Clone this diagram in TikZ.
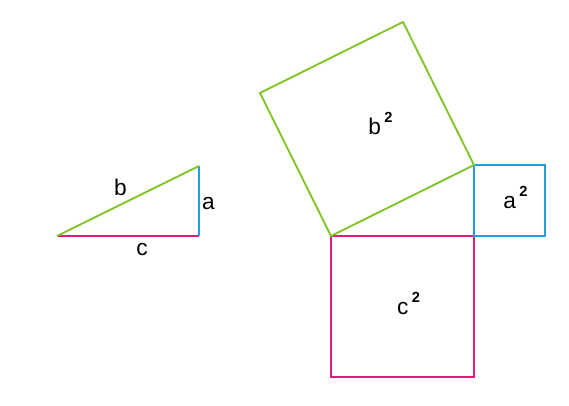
\documentclass[tikz,border=0pt]{standalone}
\usepackage{fontspec}
\setmainfont{Liberation Sans}
\usetikzlibrary{positioning}

\definecolor{sidea}{RGB}{27,160,225}
\definecolor{sideb}{RGB}{128,196,40}
\definecolor{sidec}{RGB}{226,26,124}

\newcommand{\sq}[1]{#1\kern2.5pt\raisebox{9pt}{\fontsize{11}{12}\selectfont\bfseries 2}}

\begin{document}
\begin{tikzpicture}[x=0.75pt, y=-0.75pt, line width=1.4pt, line join=miter,
    lbl/.style={font=\fontsize{17}{20}\selectfont, inner sep=0pt, anchor=base}]
    \useasboundingbox (0,0) rectangle (569,406);

    % triangle
    \coordinate (tc) at (57,236);
    \coordinate (tr) at (199,236);
    \coordinate (ta) at (199,166);

    \draw[sidec] (tc) -- (tr);
    \draw[sidea] (tr) -- (ta);
    \draw[sideb] (tc) -- (ta);

    \node[lbl] (lb) at (120.5,196) {b};
    \node[lbl] (la) at (208.5,210) {a};
    \node[lbl] (lc) at (142,256) {c};

    % squares
    \coordinate (p) at (331,236);
    \coordinate (q) at (474,236);
    \coordinate (r) at (474,165);

    \draw[sidec] (p) -- (q) -- (474,377) -- (331,377) -- cycle;
    \draw[sidea] (r) -- (545,165) -- (545,236) -- (q) -- cycle;
    \draw[sideb] (p) -- (r) -- (403,22) -- (260,93) -- cycle;

    \node[lbl] (lb2) at (380.5,135) {\sq{b}};
    \node[lbl] (la2) at (515.5,209) {\sq{a}};
    \node[lbl] (lc2) at (408.5,315) {\sq{c}};
\end{tikzpicture}
\end{document}
